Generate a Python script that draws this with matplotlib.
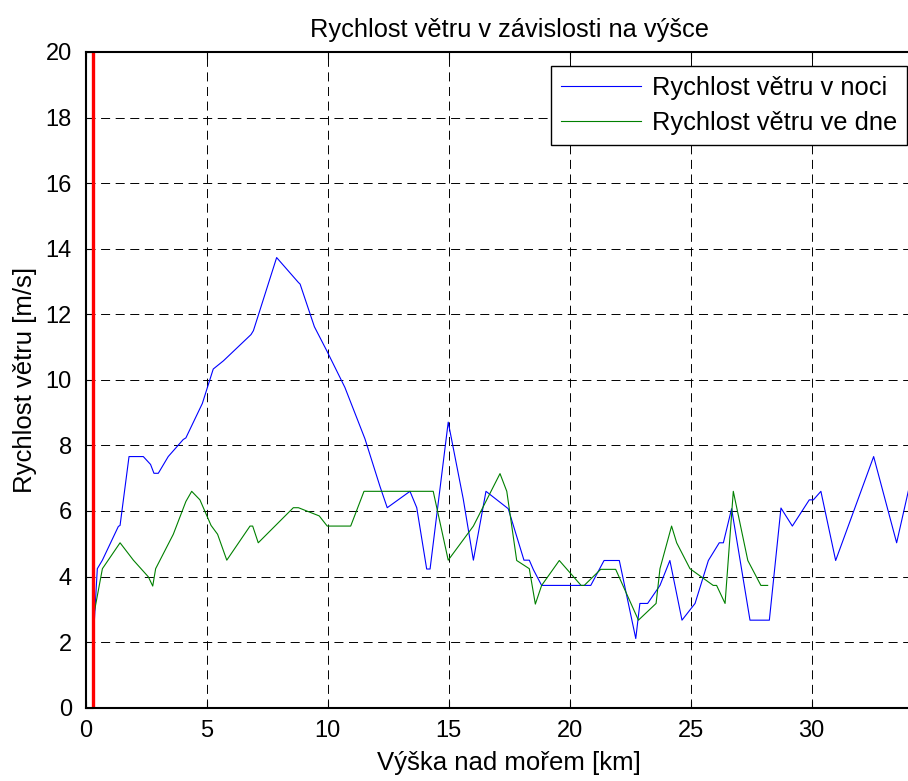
import matplotlib
matplotlib.use("Agg")
import matplotlib.pyplot as plt

plt.rcParams['font.family'] = ['Liberation Sans', 'DejaVu Sans']
plt.rcParams['lines.scale_dashes'] = False

# Night wind speed (blue)
night_x = [0.3, 0.48, 0.69, 1.35, 1.42, 1.79, 2.38, 2.68, 2.82, 3.0, 3.41, 4.03, 4.14,
           4.82, 5.27, 5.69, 6.83, 6.93, 7.89, 8.79, 8.86, 9.45, 9.96, 10.71, 11.54,
           12.16, 12.46, 13.4, 13.68, 14.09, 14.23, 14.98, 15.6, 16.02, 16.54, 17.46,
           18.11, 18.33, 18.5, 18.84, 20.87, 21.42, 22.05, 22.73, 22.9, 23.22, 23.73,
           24.14, 24.64, 25.18, 25.73, 26.18, 26.35, 26.69, 27.45, 28.25, 28.73, 29.2,
           29.9, 30.07, 30.38, 30.99, 32.56, 33.51, 34.0]
night_y = [1.9, 4.24, 4.5, 5.53, 5.56, 7.66, 7.66, 7.42, 7.15, 7.15, 7.66, 8.18, 8.23,
           9.28, 10.33, 10.58, 11.38, 11.5, 13.73, 12.97, 12.92, 11.62, 10.89, 9.77, 8.2,
           6.75, 6.1, 6.6, 6.1, 4.23, 4.23, 8.71, 6.37, 4.5, 6.6, 6.07,
           4.5, 4.5, 4.21, 3.73, 3.73, 4.49, 4.49, 2.11, 3.18, 3.18, 3.73,
           4.49, 2.67, 3.18, 4.49, 5.03, 5.03, 6.07, 2.67, 2.67, 6.09, 5.54,
           6.34, 6.34, 6.6, 4.49, 7.66, 5.03, 6.63]

# Day wind speed (green)
day_x = [0.3, 0.69, 1.42, 1.97, 2.59, 2.77, 2.89, 3.62, 4.14, 4.38, 4.72, 5.18, 5.45,
         5.83, 6.79, 6.9, 7.13, 8.58, 8.79, 9.65, 9.98, 10.95, 11.5, 14.36, 14.98,
         16.02, 17.12, 17.4, 17.81, 18.33, 18.58, 18.84, 19.57, 20.47, 20.6, 21.28,
         21.9, 22.84, 23.57, 23.73, 24.21, 24.42, 24.97, 25.93, 26.07, 26.42, 26.76,
         27.36, 27.9, 28.18]
day_y = [2.7, 4.24, 5.03, 4.5, 3.99, 3.71, 4.24, 5.29, 6.29, 6.6, 6.34, 5.56, 5.29,
         4.5, 5.54, 5.54, 5.03, 6.1, 6.1, 5.85, 5.54, 5.54, 6.6, 6.6, 4.5,
         5.54, 7.14, 6.6, 4.49, 4.24, 3.16, 3.73, 4.49, 3.73, 3.73, 4.22,
         4.22, 2.67, 3.18, 4.24, 5.54, 5.03, 4.24, 3.73, 3.73, 3.18, 6.6,
         4.49, 3.73, 3.73]

marker_x = 0.3
x_ticks = [0, 5, 10, 15, 20, 25, 30]
y_ticks = [0, 2, 4, 6, 8, 10, 12, 14, 16, 18, 20]

W, H = 908, 781
fig = plt.figure(figsize=(W / 100, H / 100), dpi=100)
left = 85.7 / W
bottom = (H - 707.7) / H
height = (707.7 - 52) / H
width = 35 * 24.2 / W
ax = fig.add_axes([left, bottom, width, height])

ax.plot(night_x, night_y, color='#0000ff', lw=0.8, label='Rychlost větru v noci')
ax.plot(day_x, day_y, color='#008000', lw=0.8, label='Rychlost větru ve dne')
ax.axvline(marker_x, color='#ff0000', lw=2.4)

ax.set_xlim(0, 35)
ax.set_ylim(0, 20)
ax.set_xticks(x_ticks)
ax.set_yticks(y_ticks)
ax.grid(True, color='black', lw=0.7, linestyle=(0, (6.5, 4.0)))
ax.tick_params(direction='in', top=True, right=True, labelsize=17, length=5, width=0.8)
ax.tick_params(axis='x', pad=9)
ax.tick_params(axis='y', pad=10)
for s in ax.spines.values():
    s.set_linewidth(1.5)

ax.set_title('Rychlost větru v závislosti na výšce', fontsize=18.3, pad=11)
ax.set_xlabel('Výška nad mořem [km]', fontsize=18.5, labelpad=6)
ax.set_ylabel('Rychlost větru [m/s]', fontsize=18.5, labelpad=6)

leg = ax.legend(loc='upper right', bbox_to_anchor=(907 / W, 1 - 65.5 / H),
                bbox_transform=fig.transFigure, fontsize=18.4, fancybox=False,
                edgecolor='black', framealpha=1, borderaxespad=0,
                handlelength=3.15, handletextpad=0.4, borderpad=0.4, labelspacing=0.45)
leg.get_frame().set_linewidth(1.0)

fig.savefig('out.png', dpi=100)
